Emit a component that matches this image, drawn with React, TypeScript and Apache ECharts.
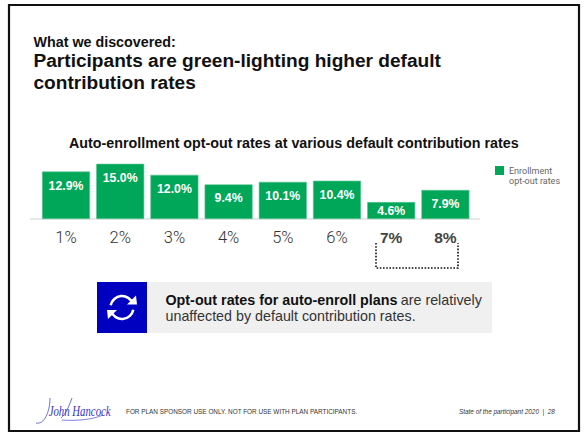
import React, { useEffect, useRef } from "react";
import * as echarts from "echarts";

const SANS = '"Liberation Sans", Arial, sans-serif';
const LIGHT = 'Roboto, "Liberation Sans", sans-serif';

const defaultRates = ["1%", "2%", "3%", "4%", "5%", "6%", "7%", "8%"];
const optOutRates = [12.9, 15.0, 12.0, 9.4, 10.1, 10.4, 4.6, 7.9];
const emphasizedRates = ["7%", "8%"];
const seriesName = "Enrollment\nopt-out rates";

const GREEN = "#00a758";
const BLUE = "#0000c1";

export default function App() {
  const ref = useRef<HTMLDivElement>(null);

  useEffect(() => {
    const chart = echarts.init(ref.current!, undefined, { renderer: "svg" });

    chart.setOption({
      animation: false,
      backgroundColor: "#ffffff",
      title: {
        text: "Auto-enrollment opt-out rates at various default contribution rates",
        left: 69,
        top: 136,
        padding: 0,
        textStyle: { fontFamily: SANS, fontSize: 14.3, fontWeight: "bold", color: "#111111" },
      },
      legend: {
        left: 495,
        top: 166,
        orient: "vertical",
        itemWidth: 9,
        itemHeight: 20,
        itemGap: 0,
        padding: 0,
        icon: "path://M0 0H9V9H0Z M0 20L0 20",
        itemStyle: { borderWidth: 0 },
        data: [seriesName],
        textStyle: { fontFamily: LIGHT, fontSize: 9, color: "#666666", lineHeight: 10, padding: [0, 0, 0, 0] },
      },
      grid: { left: 38.9, top: 145.4, width: 433.6, height: 73.6 },
      xAxis: {
        type: "category",
        data: defaultRates,
        axisLine: { show: false },
        axisTick: { show: false },
        axisLabel: {
          interval: 0,
          margin: 10,
          formatter: (v: string) => (emphasizedRates.includes(v) ? `{strong|${v}}` : `{plain|${v}}`),
          rich: {
            plain: { fontFamily: LIGHT, fontSize: 16.5, fontWeight: 300, color: "#333333" },
            strong: { fontFamily: SANS, fontSize: 15.5, fontWeight: "bold", color: "#444444" },
          },
        },
      },
      yAxis: { type: "value", min: 0, max: 20, show: false },
      series: [
        {
          name: seriesName,
          type: "bar",
          barWidth: 48,
          itemStyle: { color: GREEN, borderColor: "#5cc796", borderWidth: 0.6 },
          label: {
            show: true,
            position: "insideTop",
            distance: 8,
            fontFamily: SANS,
            fontSize: 12.3,
            fontWeight: "bold",
            color: "#ffffff",
            formatter: (p: { value: number }) => `${p.value.toFixed(1)}%`,
          },
          data: optOutRates.map((value) =>
            value < 5 ? { value, label: { distance: 3 } } : value
          ),
        },
      ],
      graphic: [
        // slide frame
        { type: "rect", shape: { x: 9, y: 5, width: 570, height: 426 }, style: { fill: "none", stroke: "#111111", lineWidth: 2.2 }, z: 0 },
        // slide heading
        { type: "text", x: 33.5, y: 35, style: { text: "What we discovered:", font: `bold 14.3px ${SANS}`, fill: "#111111" } },
        { type: "text", x: 33.5, y: 50.5, style: { text: "Participants are green-lighting higher default", font: `bold 19.1px ${SANS}`, fill: "#111111" } },
        { type: "text", x: 33.5, y: 72.5, style: { text: "contribution rates", font: `bold 19.1px ${SANS}`, fill: "#111111" } },
        // baseline extends past the outer bars on both sides
        { type: "line", shape: { x1: 30, y1: 219, x2: 480, y2: 219 }, style: { stroke: "#d0d0d0", lineWidth: 1 } },
        // dotted bracket below the two emphasized rates
        {
          type: "polyline",
          shape: { points: [[376, 243], [376, 268], [458, 268], [458, 243]] },
          style: { fill: "none", stroke: "#111111", lineWidth: 1.6, lineDash: [1.6, 1.6] },
        },
        // callout
        { type: "rect", shape: { x: 147, y: 282, width: 345, height: 51 }, style: { fill: "#f0f0f0" } },
        { type: "rect", shape: { x: 97, y: 282, width: 50, height: 51 }, style: { fill: BLUE } },
        { type: "arc", shape: { cx: 122, cy: 307.5, r: 11.5, startAngle: -2.95, endAngle: -0.35, clockwise: true }, style: { fill: "none", stroke: "#ffffff", lineWidth: 2.6 } },
        { type: "arc", shape: { cx: 122, cy: 307.5, r: 11.5, startAngle: 0.2, endAngle: 2.8, clockwise: true }, style: { fill: "none", stroke: "#ffffff", lineWidth: 2.6 } },
        { type: "polygon", shape: { points: [[127, 304.5], [137, 304.5], [136, 295.5]] }, style: { fill: "#ffffff" } },
        { type: "polygon", shape: { points: [[107, 310], [117, 310], [108, 319]] }, style: { fill: "#ffffff" } },
        {
          type: "text",
          x: 165.5,
          y: 292,
          style: {
            text: "{b|Opt-out rates for auto-enroll plans} {r|are relatively}\n{r|unaffected by default contribution rates.}",
            rich: {
              b: { font: `bold 14.3px ${SANS}`, fill: "#111111", lineHeight: 16 },
              r: { font: `14.3px ${SANS}`, fill: "#333333", lineHeight: 16 },
            },
          },
        },
        // footer: signature wordmark with its pen flourishes
        { type: "text", x: 38, y: 403, scaleX: 0.72, originX: 38, style: { text: "John Hancock", font: `italic 15px "Liberation Serif", serif`, fill: "#3434c8" } },
        { type: "bezierCurve", shape: { x1: 50, y1: 398, cpx1: 50, cpy1: 412, cpx2: 44, cpy2: 425, x2: 36, y2: 423 }, style: { fill: "none", stroke: "#4a4ad0", lineWidth: 0.8 } },
        { type: "bezierCurve", shape: { x1: 72, y1: 398, cpx1: 69, cpy1: 406, cpx2: 66, cpy2: 414, x2: 61, y2: 418 }, style: { fill: "none", stroke: "#4a4ad0", lineWidth: 0.8 } },
        { type: "bezierCurve", shape: { x1: 62, y1: 420, cpx1: 74, cpy1: 421, cpx2: 92, cpy2: 420, x2: 103, y2: 415 }, style: { fill: "none", stroke: "#4a4ad0", lineWidth: 0.7 } },
        { type: "text", x: 126, y: 408, style: { text: "FOR PLAN SPONSOR USE ONLY. NOT FOR USE WITH PLAN PARTICIPANTS.", font: `6.4px ${SANS}`, fill: "#333333" } },
        { type: "text", x: 459, y: 408, style: { text: "State of the participant 2020  |  28", font: `italic 6.4px ${SANS}`, fill: "#333333" } },
      ],
    });

    return () => chart.dispose();
  }, []);

  return <div ref={ref} style={{ position: "absolute", left: 0, top: 0, width: 584, height: 433 }} />;
}
